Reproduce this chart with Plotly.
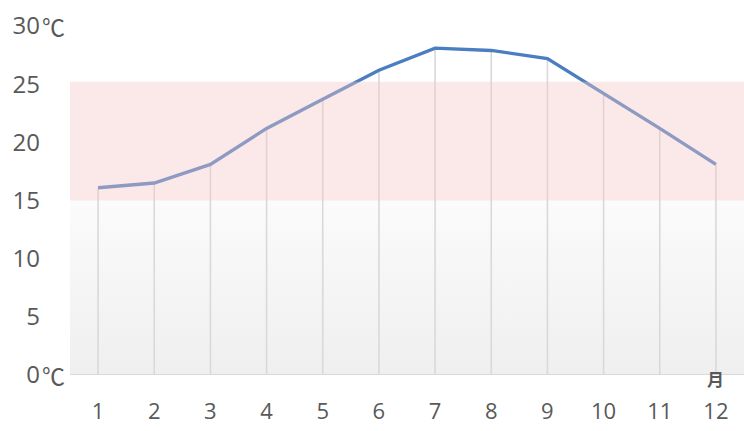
import plotly.graph_objects as go

months = [1, 2, 3, 4, 5, 6, 7, 8, 9, 10, 11, 12]
month_labels = [str(m) for m in months]
temps = [16.1, 16.5, 18.1, 21.2, 23.7, 26.2, 28.1, 27.9, 27.2, 24.2, 21.2, 18.1]
y_ticks = [0, 5, 10, 15, 20, 25, 30]
comfort_band = [15, 25.2]
lower_band = [0, 15]

TXT = "#595959"
FONT = "Open Sans, Segoe UI, sans-serif"

fig = go.Figure()

# gray gradient band (0-15)
fig.add_trace(go.Scatter(
    x=[0.5, 12.5, 12.5, 0.5, 0.5],
    y=[lower_band[0], lower_band[0], lower_band[1], lower_band[1], lower_band[0]],
    mode="lines", line=dict(width=0), fill="toself",
    fillgradient=dict(type="vertical",
                      colorscale=[[0, "#efefef"], [1, "#fbfbfb"]]),
    hoverinfo="skip", showlegend=False))

# drop lines
dx, dy = [], []
for m, t in zip(months, temps):
    dx += [m, m, None]
    dy += [0, t, None]
fig.add_trace(go.Scatter(x=dx, y=dy, mode="lines",
                         line=dict(color="#d9d9d9", width=1.6),
                         hoverinfo="skip", showlegend=False))

fig.add_trace(go.Scatter(x=months, y=temps, mode="lines",
                         line=dict(color="#4a7ec0", width=3.4),
                         showlegend=False))

# comfort band drawn above the line
fig.add_shape(type="rect", xref="paper", x0=0, x1=1, yref="y",
              y0=comfort_band[0], y1=comfort_band[1],
              fillcolor="rgba(245,198,198,0.4)", line=dict(width=0),
              layer="above")

fig.update_layout(
    width=744, height=431,
    margin=dict(l=70, r=0, t=26, b=56),
    paper_bgcolor="white", plot_bgcolor="white",
    font=dict(family=FONT, color=TXT),
    xaxis=dict(range=[0.5, 12.5], tickvals=months, ticktext=month_labels,
               showgrid=False, zeroline=False, showline=False,
               ticks="", tickfont=dict(size=22, color=TXT),
               ticklabelstandoff=21, fixedrange=True),
    yaxis=dict(range=[0, 30], tickvals=y_ticks, ticktext=[str(v) for v in y_ticks],
               showgrid=False, zeroline=False, showline=False,
               ticks="", tickfont=dict(size=24, color=TXT),
               ticklabelstandoff=29, fixedrange=True),
)

# x axis line
fig.add_shape(type="line", xref="paper", x0=0, x1=1, yref="y", y0=0, y1=0,
              line=dict(color="#d9d9d9", width=2), layer="above")

for v in [30, 0]:
    fig.add_annotation(xref="paper", x=0, yref="y", y=v, text="℃",
                       showarrow=False, xanchor="right", xshift=-3,
                       font=dict(size=23, color=TXT, family="Noto Sans CJK JP"))

fig.add_annotation(xref="x", x=12, yref="paper", y=0, text="<b>月</b>",
                   showarrow=False, yanchor="middle", yshift=-3,
                   font=dict(size=17, color=TXT, family="Noto Sans CJK JP"))

fig.write_html("out.html")
